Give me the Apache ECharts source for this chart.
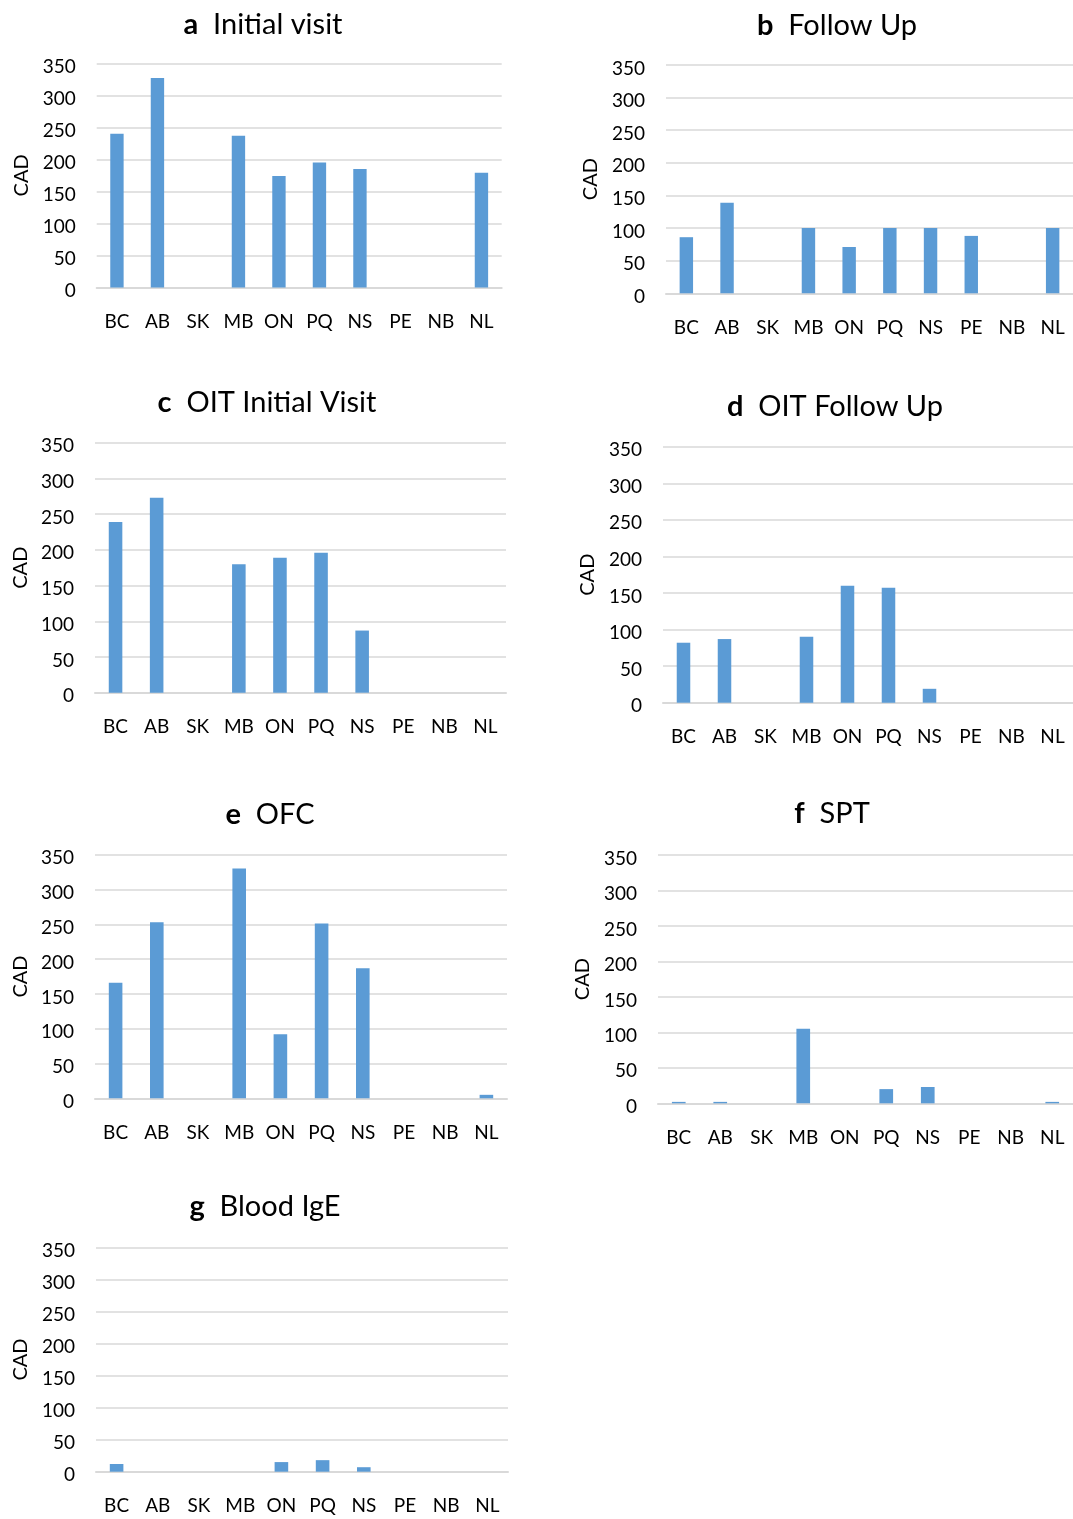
<!DOCTYPE html>
<html>
<head>
<meta charset="utf-8">
<script src="https://cdn.jsdelivr.net/npm/echarts@6/dist/echarts.min.js"></script>
<style>
html,body{margin:0;padding:0;background:#fff;}
#chart{width:1073px;height:1519px;}
</style>
</head>
<body>
<div id="chart"></div>
<script>
// ---- data ----
const categories = ['BC','AB','SK','MB','ON','PQ','NS','PE','NB','NL'];
const yTicks = [0, 50, 100, 150, 200, 250, 300, 350];
const panelLetters = ['a','b','c','d','e','f','g'];
const panelTitles = ['Initial visit','Follow Up','OIT Initial Visit','OIT Follow Up','OFC','SPT','Blood IgE'];
const initialVisit    = [240, 327, null, 237, 174, 195, 185, null, null, 179];
const followUp        = [86, 139, null, 100, 71, 100, 100, 88, null, 100];
const oitInitialVisit = [239, 273, null, 180, 189, 196, 87, null, null, null];
const oitFollowUp     = [82, 87, null, 90, 160, 157, 19, null, null, null];
const ofc             = [166, 253, null, 330, 92, 251, 187, null, null, 5];
const spt             = [2, 2, null, 105, null, 20, 23, null, null, 2];
const bloodIgE        = [12, null, null, null, 15, 18, 7, null, null, null];
const seriesValues = [initialVisit, followUp, oitInitialVisit, oitFollowUp, ofc, spt, bloodIgE];

// ---- layout (px) ----
const layouts = [
  {left: 96.7, top: 63.3,  width: 405, height: 224.2, tx: 258, ty: 21,  cadX: 21.7},
  {left: 666,  top: 65,    width: 411, height: 228.3, tx: 832, ty: 22,  cadX: 591},
  {left: 95,   top: 442.7, width: 411, height: 250,   tx: 262, ty: 399, cadX: 21},
  {left: 663,  top: 446.7, width: 413, height: 256,   tx: 830, ty: 403, cadX: 588},
  {left: 95,   top: 854.7, width: 412, height: 243.6, tx: 265, ty: 811, cadX: 21},
  {left: 658,  top: 855,   width: 422, height: 248.3, tx: 827, ty: 810, cadX: 583},
  {left: 96,   top: 1247.3,width: 412, height: 224.4, tx: 260, ty: 1203,cadX: 21}
];

const FONT = 'Lato, "Open Sans", sans-serif';
const TXT = '#000';
const GRID_C = '#D9D9D9';
const BAR_C = '#5B9BD5';

const grids = [], xAxes = [], yAxes = [], series = [], titles = [];
layouts.forEach((L, i) => {
  grids.push({left: L.left, top: L.top, width: L.width, height: L.height, containLabel: false});
  xAxes.push({
    type: 'category', gridIndex: i, data: categories,
    axisTick: {show: false},
    axisLine: {show: true, lineStyle: {color: GRID_C, width: 2}},
    axisLabel: {color: TXT, fontFamily: FONT, fontSize: 19, margin: 25, interval: 0}
  });
  yAxes.push({
    type: 'value', gridIndex: i, min: 0, max: 350, interval: 50,
    axisLine: {show: false}, axisTick: {show: false},
    axisLabel: {color: TXT, fontFamily: FONT, fontSize: 19, margin: 21,
      formatter: v => yTicks.includes(v) ? '{v|' + v + '}' : '',
      rich: {v: {color: TXT, fontFamily: FONT, fontSize: 19, padding: [7, 0, 0, 0]}}},
    splitLine: {show: true, lineStyle: {color: GRID_C, width: 1.6}},
    name: 'CAD', nameLocation: 'middle', nameRotate: 90,
    nameGap: L.left - L.cadX - 10,
    nameTextStyle: {color: TXT, fontFamily: FONT, fontSize: 20}
  });
  series.push({
    type: 'bar', xAxisIndex: i, yAxisIndex: i, data: seriesValues[i],
    barWidth: '33%', itemStyle: {color: BAR_C}, silent: true
  });
  titles.push({
    text: '{b|' + panelLetters[i] + '}{n|  ' + panelTitles[i] + '}',
    left: L.tx, top: L.ty - 16, textAlign: 'center',
    textStyle: {
      rich: {
        b: {fontFamily: FONT, fontWeight: 'bold', fontSize: 29, color: '#000'},
        n: {fontFamily: FONT, fontWeight: 'normal', fontSize: 29, color: '#000'}
      }
    }
  });
});

const chart = echarts.init(document.getElementById('chart'), null, {renderer: 'canvas'});
chart.setOption({
  backgroundColor: '#fff',
  animation: false,
  title: titles,
  grid: grids,
  xAxis: xAxes,
  yAxis: yAxes,
  series: series
});
</script>
</body>
</html>
